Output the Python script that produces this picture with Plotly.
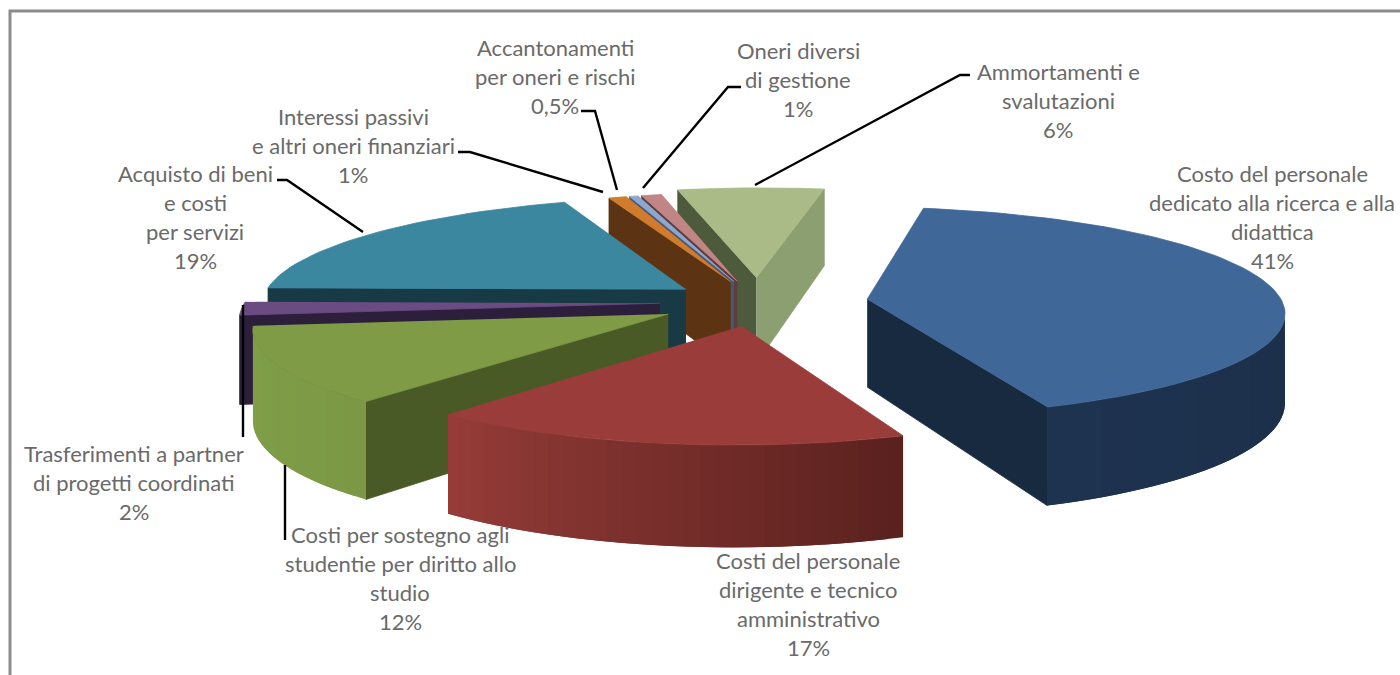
import numpy as np
import plotly.graph_objects as go

# ---- data ----
categories = ["Costo del personale dedicato alla ricerca e alla didattica",
              "Costi del personale dirigente e tecnico amministrativo",
              "Costi per sostegno agli studentie per diritto allo studio",
              "Trasferimenti a partner di progetti coordinati",
              "Acquisto di beni e costi per servizi",
              "Interessi passivi e altri oneri finanziari",
              "Accantonamenti per oneri e rischi",
              "Oneri diversi di gestione",
              "Ammortamenti e svalutazioni"]
values = [41, 17, 12, 2, 19, 0.8, 0.4, 0.9, 6.3]
explode = [110, 96, 100, 98, 90, 88, 88, 88, 100]
radii = [415, 397, 405, 415, 425, 415, 415, 415, 425]

top_colors = ["#3F6797", "#9A3D3A", "#7F9B46", "#6A4B82", "#3B879F", "#D07C2C", "#8EA7D0", "#C08584", "#AABB88"]
wall_from = ["#1E3350", "#953C38", "#80A048", "#3A2A55", "#1A3C48", "#5C3414", "#4B5770", "#5D3E3E", "#8C9F70"]
wall_to = ["#18293F", "#5A211E", "#7C9845", "#3A2A55", "#1A3C48", "#5C3414", "#4B5770", "#5D3E3E", "#8C9F70"]
face_start = ["#182A40", "#5A211E", "#4A5A26", "#2C1F3C", "#183A45", "#5C3414", "#4B5770", "#5D3E3E", "#4E5A3C"]
face_end = ["#182A40", "#5A211E", "#4A5A26", "#2C1F3C", "#183A45", "#5C3414", "#4B5770", "#5D3E3E", "#8C9F70"]
draw_order = [8, 7, 6, 5, 4, 3, 2, 1, 0]

label_lines = [
    ["Costo del personale", "dedicato alla ricerca e alla", "didattica", "41%"],
    ["Costi del personale", "dirigente e tecnico", "amministrativo", "17%"],
    ["Costi per sostegno agli", "studentie per diritto allo", "studio", "12%"],
    ["Trasferimenti a partner", "di progetti coordinati", "2%"],
    ["Acquisto di beni", "e costi", "per servizi", "19%"],
    ["Interessi passivi", "e altri oneri finanziari", "1%"],
    ["Accantonamenti", "per oneri e rischi", "0,5%"],
    ["Oneri diversi", "di gestione", "1%"],
    ["Ammortamenti e", "svalutazioni", "6%"],
]
label_x = [1272, 808, 400, 134, 195, 353, 555, 798, 1058]
label_y = [173, 560, 534, 453, 173, 116, 47, 50, 71]
line_step = 29.3

leader_x = [[243, 243], [285, 285], [277, 287, 363], [458, 470, 603], [581, 595, 617], [741, 728, 643], [970, 960, 755]]
leader_y = [[305, 437], [465, 540], [180, 180, 232], [152, 152, 192], [111, 111, 190], [87, 87, 188], [75, 75, 185]]

# ---- perspective model ----
start_angle = 10.0
WALL = 88.0
D = 3500.0
VX = 790.0
CX, CY = 758.0, 302.0
KH = 0.25 * D
HY = CY - KH


def project(x, y, z):
    s = D / (D + y)
    return VX + s * (x + CX - VX), HY + s * (KH - z)


def hex2rgb(h):
    return np.array([int(h[i:i + 2], 16) for i in (1, 3, 5)], float)


def mix(a, b, t):
    c = hex2rgb(a) * (1 - t) + hex2rgb(b) * t
    return "rgb(%d,%d,%d)" % tuple(c.round())


def area(xs, ys):
    xs, ys = np.asarray(xs), np.asarray(ys)
    return 0.5 * np.sum(xs * np.roll(ys, -1) - np.roll(xs, -1) * ys)


fig = go.Figure()


def poly(xs, ys, color, name, lw=0.8):
    fig.add_trace(go.Scatter(x=list(xs), y=list(ys), mode="lines", fill="toself", fillcolor=color,
                             line=dict(color=color, width=lw), hoverinfo="skip", showlegend=False, name=name))


vals = np.array(values, float)
spans = vals / vals.sum() * 360.0
starts = start_angle + np.concatenate([[0], np.cumsum(spans)[:-1]])

for i in draw_order:
    a0, a1 = starts[i], starts[i] + spans[i]
    am = np.radians((a0 + a1) / 2)
    ax, ay = explode[i] * np.sin(am), explode[i] * np.cos(am)
    th = np.radians(np.linspace(a0, a1, max(3, int(spans[i] / 2) + 2)))
    rx, ry = ax + radii[i] * np.sin(th), ay + radii[i] * np.cos(th)
    for k, col, sign in ((0, face_start[i], -1), (-1, face_end[i], 1)):
        qx = [ax, rx[k], rx[k], ax]
        qy = [ay, ry[k], ry[k], ay]
        qz = [0, 0, -WALL, -WALL]
        px, py = project(np.array(qx), np.array(qy), np.array(qz))
        if area(px, py) * sign > 0:
            poly(px, py, col, categories[i])
    n = len(th)
    for j in range(n - 1):
        e = min(j + 2, n - 1)
        sx, sy = project(rx[j:j + 2], ry[j:j + 2], np.zeros(2))
        bx, by = project(rx[j:j + 2], ry[j:j + 2], np.full(2, -WALL))
        if area([sx[0], sx[1], bx[1], bx[0]], [sy[0], sy[1], by[1], by[0]]) < 0:
            tx, ty = project(rx[j:e + 1], ry[j:e + 1], np.zeros(e - j + 1))
            lx, ly = project(rx[j:e + 1], ry[j:e + 1], np.full(e - j + 1, -WALL))
            poly(np.r_[tx, lx[::-1]], np.r_[ty, ly[::-1]], mix(wall_from[i], wall_to[i], 1 - j / max(1, n - 2)),
                 categories[i], lw=0)
    px, py = project(np.r_[ax, rx], np.r_[ay, ry], np.zeros(len(rx) + 1))
    poly(px, py, top_colors[i], categories[i])

for lx, ly in zip(leader_x, leader_y):
    fig.add_trace(go.Scatter(x=lx, y=ly, mode="lines", line=dict(color="#000000", width=2.4),
                             hoverinfo="skip", showlegend=False))

for lines, x0, y0 in zip(label_lines, label_x, label_y):
    for n, t in enumerate(lines):
        fig.add_annotation(x=x0, y=y0 + n * line_step, text=t, showarrow=False, xanchor="center", yanchor="middle",
                           font=dict(family="Lato", size=22, color="#6A6A6A"))

fig.add_shape(type="rect", x0=10, y0=11, x1=1420, y1=700, line=dict(color="#8C8C8C", width=3), layer="below")

fig.update_layout(width=1400, height=675, margin=dict(l=0, r=0, t=0, b=0), autosize=False,
                  paper_bgcolor="white", plot_bgcolor="white",
                  xaxis=dict(range=[0, 1400], visible=False, fixedrange=True),
                  yaxis=dict(range=[675, 0], visible=False, fixedrange=True))
fig.write_html("out.html", config={"displayModeBar": False},
               post_script="document.body.style.margin='0';document.body.style.overflow='hidden';")
